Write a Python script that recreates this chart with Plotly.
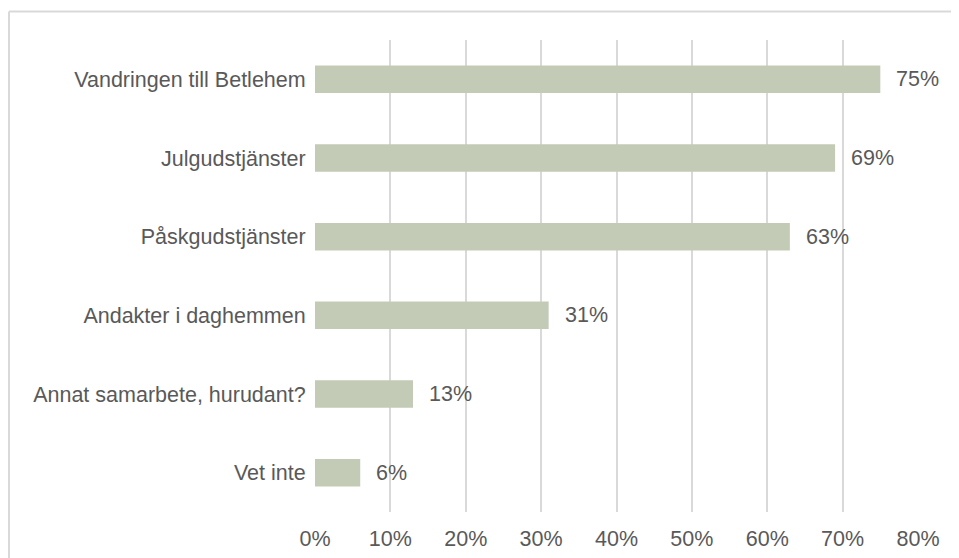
import plotly.graph_objects as go

categories = ["Vandringen till Betlehem", "Julgudstjänster", "Påskgudstjänster",
              "Andakter i daghemmen", "Annat samarbete, hurudant?", "Vet inte"]
values = [0.75, 0.69, 0.63, 0.31, 0.13, 0.06]
tick_vals = [0, 0.1, 0.2, 0.3, 0.4, 0.5, 0.6, 0.7, 0.8]
tick_text = ["0%", "10%", "20%", "30%", "40%", "50%", "60%", "70%", "80%"]

# page body has an 8px margin, so figure coords = screen coords - 8
W, H = 951, 550
L, R, T, B = 307, 910, 32, 504
FONT = dict(family="Arial, Liberation Sans, sans-serif", size=21.5, color="#595959")

fig = go.Figure(go.Bar(
    x=values, y=categories, orientation="h",
    marker=dict(color="#c3cbb6", line=dict(width=0)),
    width=0.35,
))

for c, v in zip(categories, values):
    fig.add_annotation(x=v, y=c, text=f"{round(v*100)}%", showarrow=False,
                       xanchor="left", xshift=14, font=FONT)

pw, ph = R - L, B - T
bx = (1 - L) / pw
by = (B - 3.5) / ph
fig.add_shape(type="line", xref="paper", yref="paper",
              x0=bx, x1=(W - L) / pw, y0=by, y1=by,
              line=dict(color="#d9d9d9", width=2), layer="below")
fig.add_shape(type="line", xref="paper", yref="paper",
              x0=bx, x1=bx, y0=by, y1=(B - H) / ph,
              line=dict(color="#d9d9d9", width=2), layer="below")

fig.update_layout(
    width=W, height=H,
    margin=dict(l=L, r=W - R, t=T, b=H - B, pad=0, autoexpand=False),
    paper_bgcolor="white", plot_bgcolor="white",
    showlegend=False, font=FONT,
    xaxis=dict(range=[0, 0.8], tickvals=tick_vals, ticktext=tick_text,
               showgrid=True, gridcolor="#d9d9d9", gridwidth=1.5,
               zeroline=False, showline=False, automargin=False,
               ticks="outside", ticklen=7, tickcolor="white",
               tickfont=FONT),
    yaxis=dict(categoryorder="array", categoryarray=categories[::-1],
               range=[-0.5, 5.5], showgrid=False, zeroline=False, showline=False,
               automargin=False,
               ticks="outside", ticklen=4, tickcolor="white",
               tickfont=FONT),
)

fig.write_html("out.html", config={"displayModeBar": False})
